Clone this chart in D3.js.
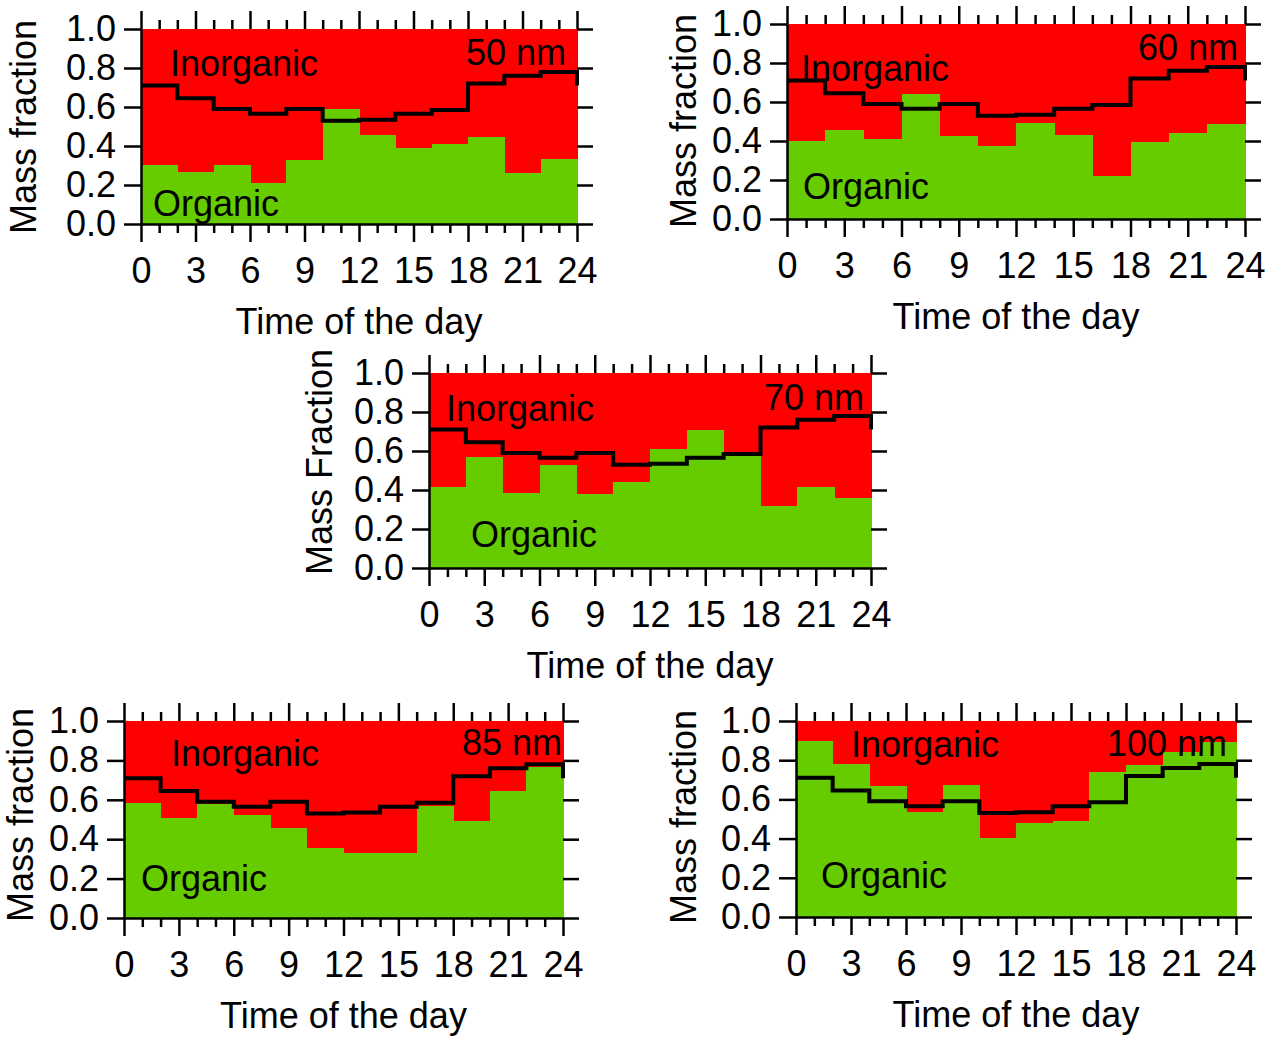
<!DOCTYPE html>
<html>
<head>
<meta charset="utf-8">
<script src="https://cdn.jsdelivr.net/npm/d3@7"></script>
<style>
  html, body { margin: 0; padding: 0; background: #fff; }
  text { font-family: "Liberation Sans", Arial, sans-serif; fill: #000; }
</style>
</head>
<body>
<script>
// ---------- DATA ----------
// 2-hour bins (start hour of each bin)
const binStarts = [0, 2, 4, 6, 8, 10, 12, 14, 16, 18, 20, 22];
// times at which the black step line has vertices (last = end of day)
const lineTimes = [0, 2, 4, 6, 8, 10, 12, 14, 16, 18, 20, 22, 24];
// black step line (same in every panel)
const lineValues = [0.71, 0.645, 0.59, 0.565, 0.59, 0.53, 0.535, 0.565, 0.585, 0.72, 0.76, 0.78, 0.71];

// organic mass fraction per bin
const organic50  = [0.304, 0.266, 0.305, 0.209, 0.329, 0.592, 0.458, 0.389, 0.408, 0.444, 0.261, 0.334];
const organic60  = [0.400, 0.456, 0.408, 0.639, 0.426, 0.374, 0.492, 0.431, 0.219, 0.397, 0.443, 0.489];
const organic70  = [0.413, 0.570, 0.383, 0.527, 0.379, 0.439, 0.609, 0.706, 0.575, 0.316, 0.417, 0.357];
const organic85  = [0.586, 0.507, 0.579, 0.524, 0.459, 0.353, 0.331, 0.329, 0.569, 0.490, 0.647, 0.769];
const organic100 = [0.899, 0.779, 0.668, 0.535, 0.676, 0.402, 0.482, 0.489, 0.739, 0.775, 0.842, 0.893];

const sizeLabels = ["50 nm", "60 nm", "70 nm", "85 nm", "100 nm"];
const yTitles = ["Mass fraction", "Mass fraction", "Mass Fraction", "Mass fraction", "Mass fraction"];
const xTitle = "Time of the day";
const xMajorTicks = [0, 3, 6, 9, 12, 15, 18, 21, 24];
const xMinorTicks = [1, 2, 4, 5, 7, 8, 10, 11, 13, 14, 16, 17, 19, 20, 22, 23];
const yTicks = [0, 0.2, 0.4, 0.6, 0.8, 1.0];
const organicSeries = [organic50, organic60, organic70, organic85, organic100];

// ---------- LAYOUT ----------
const layout = [
  {left: 141, top: 29,  w: 436, h: 195, yTitleX: 23,  yTitleY: 127, inorg: [29, 34], org: [12, 174], size: [-11, 23]},
  {left: 787, top: 24,  w: 458, h: 195, yTitleX: 683, yTitleY: 121, inorg: [14, 44], org: [16, 162], size: [-7, 23]},
  {left: 429, top: 373, w: 442, h: 195, yTitleX: 319, yTitleY: 462, inorg: [17, 35], org: [42, 161], size: [-7, 24]},
  {left: 124, top: 721, w: 439, h: 197, yTitleX: 20,  yTitleY: 815, inorg: [47, 32], org: [17, 157], size: [-1, 21]},
  {left: 796, top: 721, w: 440, h: 196, yTitleX: 683, yTitleY: 817, inorg: [55, 23], org: [25, 154], size: [-9, 22]}
];

const RED = "#ff0000", GREEN = "#66cc00";
const FS = 36;

const svg = d3.select("body").append("svg")
  .attr("width", 1269).attr("height", 1045);

layout.forEach((L, i) => {
  const org = organicSeries[i];
  const x = d3.scaleLinear().domain([0, 24]).range([0, L.w]);
  const y = d3.scaleLinear().domain([0, 1]).range([L.h, 0]);
  const g = svg.append("g").attr("transform", `translate(${L.left},${L.top})`);

  // inorganic (red) part of each bin
  g.selectAll("rect.inorg").data(binStarts).join("rect")
    .attr("class", "inorg")
    .attr("x", d => x(d)).attr("width", d => x(d + 2) - x(d) + 0.5)
    .attr("y", y(1)).attr("height", (d, j) => y(org[j]) - y(1))
    .attr("fill", RED).attr("shape-rendering", "crispEdges");
  // organic (green) part
  g.selectAll("rect.org").data(binStarts).join("rect")
    .attr("class", "org")
    .attr("x", d => x(d)).attr("width", d => x(d + 2) - x(d) + 0.5)
    .attr("y", (d, j) => y(org[j])).attr("height", (d, j) => y(0) - y(org[j]))
    .attr("fill", GREEN).attr("shape-rendering", "crispEdges");

  // black step line
  const line = d3.line().x(d => x(d[0])).y(d => y(d[1])).curve(d3.curveStepAfter);
  g.append("path")
    .datum(lineTimes.map((t, k) => [t, lineValues[k]]))
    .attr("d", line).attr("fill", "none").attr("stroke", "#000")
    .attr("stroke-width", 4).attr("stroke-linejoin", "miter");

  const styleAxis = sel => {
    sel.selectAll("line").attr("stroke", "#000").attr("stroke-width", 2.5);
    sel.selectAll("path.domain").attr("stroke", "#000").attr("stroke-width", 2.5);
    sel.selectAll("text").style("font-size", FS + "px")
      .style("font-family", '"Liberation Sans", Arial, sans-serif');
  };

  // bottom axis: major
  g.append("g").attr("transform", `translate(0,${L.h})`)
    .call(d3.axisBottom(x).tickValues(xMajorTicks).tickFormat(d3.format("d"))
      .tickSize(18).tickSizeOuter(0).tickPadding(15))
    .call(styleAxis);
  // bottom axis: minor
  g.append("g").attr("transform", `translate(0,${L.h})`)
    .call(d3.axisBottom(x).tickValues(xMinorTicks).tickFormat("").tickSize(9))
    .call(s => s.select(".domain").remove()).call(styleAxis);
  // top axis (mirror)
  g.append("g")
    .call(d3.axisTop(x).tickValues(xMajorTicks).tickFormat("").tickSize(18))
    .call(s => s.select(".domain").remove()).call(styleAxis);
  g.append("g")
    .call(d3.axisTop(x).tickValues(xMinorTicks).tickFormat("").tickSize(9))
    .call(s => s.select(".domain").remove()).call(styleAxis);
  // left axis
  g.append("g")
    .call(d3.axisLeft(y).tickValues(yTicks).tickFormat(d3.format(".1f"))
      .tickSize(17).tickSizeOuter(0).tickPadding(8))
    .call(styleAxis);
  // right axis (mirror)
  g.append("g").attr("transform", `translate(${L.w},0)`)
    .call(d3.axisRight(y).tickValues(yTicks).tickFormat("").tickSize(16))
    .call(s => s.select(".domain").remove()).call(styleAxis);

  // in-plot labels
  g.append("text").attr("x", L.inorg[0]).attr("y", L.inorg[1])
    .attr("dominant-baseline", "central").style("font-size", FS + "px").text("Inorganic");
  g.append("text").attr("x", L.org[0]).attr("y", L.org[1])
    .attr("dominant-baseline", "central").style("font-size", FS + "px").text("Organic");
  g.append("text").attr("x", L.w + L.size[0]).attr("y", L.size[1])
    .attr("dominant-baseline", "central").attr("text-anchor", "end")
    .style("font-size", FS + "px").text(sizeLabels[i]);

  // axis titles
  g.append("text").attr("x", L.w / 2).attr("y", L.h + 97)
    .attr("dominant-baseline", "central").attr("text-anchor", "middle")
    .style("font-size", FS + "px").text(xTitle);
  svg.append("text")
    .attr("transform", `translate(${L.yTitleX},${L.yTitleY}) rotate(-90)`)
    .attr("dominant-baseline", "central").attr("text-anchor", "middle")
    .style("font-size", FS + "px").text(yTitles[i]);
});
</script>
</body>
</html>
